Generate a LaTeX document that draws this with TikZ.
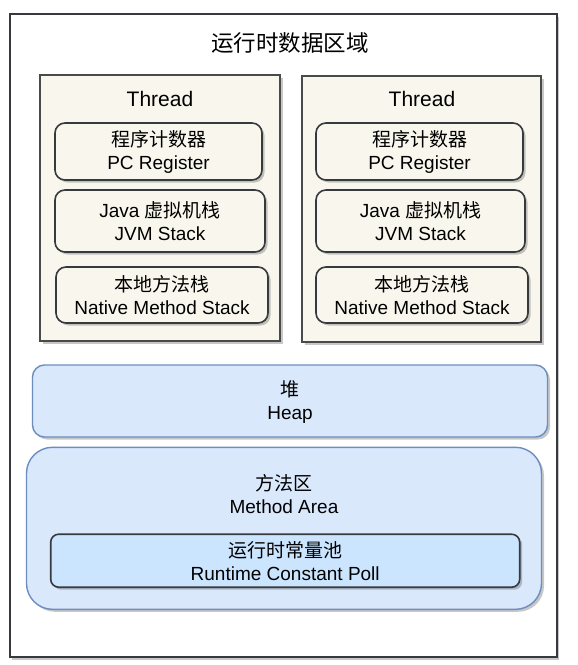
\documentclass[tikz,border=0pt]{standalone}
\usepackage{fontspec}
\setmainfont{Liberation Sans}
\newfontfamily\cjk{Noto Sans CJK SC}
\usetikzlibrary{shadows}
\definecolor{beige}{HTML}{F9F7ED}
\definecolor{bstroke}{HTML}{36393D}
\definecolor{tstroke}{HTML}{4A4A4A}
\definecolor{hblue}{HTML}{DAE8FC}
\definecolor{hstroke}{HTML}{6C8EBF}
\definecolor{pblue}{HTML}{CCE5FF}
\tikzset{
  shad/.style={drop shadow={shadow xshift=2.5pt, shadow yshift=-2.5pt, fill=black, opacity=0.22}},
  frame/.style={draw=bstroke, line width=2pt, fill=white, shad, inner sep=0pt},
  threadbox/.style={draw=tstroke, line width=1.5pt, fill=beige, shad, inner sep=0pt},
  stackbox/.style={draw=bstroke, line width=1.6pt, fill=beige, rounded corners=10pt, shad,
    align=center, inner sep=0pt, font=\fontsize{19}{23}\selectfont},
  bluebox/.style={draw=hstroke, line width=1.4pt, fill=hblue, shad, inner sep=0pt},
  poolbox/.style={draw=bstroke, line width=1.6pt, fill=pblue, rounded corners=8pt, shad,
    align=center, inner sep=0pt, font=\fontsize{19}{23}\selectfont},
  txt/.style={align=center, inner sep=0pt, font=\fontsize{19}{23}\selectfont},
  threadlbl/.style={inner sep=0pt, font=\fontsize{21}{25}\selectfont},
}
\begin{document}
\begin{tikzpicture}[x=1pt, y=-1pt]
\useasboundingbox (0,0) rectangle (578,665);
% outer frame
\node[frame, minimum width=547pt, minimum height=643pt] (outer) at (283,335.5) {};
\node[inner sep=0pt, font=\fontsize{22.5}{26}\selectfont\cjk] (title) at (290,43) {运行时数据区域};
% thread 1
\node[threadbox, minimum width=240pt, minimum height=266pt] (th1) at (160,208) {};
\node[threadlbl] (th1l) at (160,99) {Thread};
\node[stackbox, minimum width=207pt, minimum height=57pt] (pc1) at (158.5,151.5) {{\cjk 程序计数器}\\PC Register};
\node[stackbox, minimum width=210pt, minimum height=62pt] (jvm1) at (160,221) {Java {\cjk 虚拟机栈}\\JVM Stack};
\node[stackbox, minimum width=212pt, minimum height=56pt] (nat1) at (162,295) {{\cjk 本地方法栈}\\Native Method Stack};
% thread 2
\node[threadbox, minimum width=239pt, minimum height=266pt] (th2) at (421.5,209) {};
\node[threadlbl] (th2l) at (422,99) {Thread};
\node[stackbox, minimum width=207pt, minimum height=57pt] (pc2) at (419.5,151.5) {{\cjk 程序计数器}\\PC Register};
\node[stackbox, minimum width=209pt, minimum height=62pt] (jvm2) at (420.5,221) {Java {\cjk 虚拟机栈}\\JVM Stack};
\node[stackbox, minimum width=212pt, minimum height=56pt] (nat2) at (422,295) {{\cjk 本地方法栈}\\Native Method Stack};
% heap
\node[bluebox, rounded corners=12pt, minimum width=515pt, minimum height=72pt] (heap) at (290,401) {};
\node[txt] (heapl) at (290,402) {{\cjk 堆}\\Heap};
% method area
\node[bluebox, rounded corners=26pt, minimum width=515pt, minimum height=162pt] (ma) at (284,528.3) {};
\node[txt] (mal) at (284,494) {{\cjk 方法区}\\Method Area};
\node[poolbox, minimum width=469pt, minimum height=53pt] (pool) at (285.2,560.7) {{\cjk 运行时常量池}\\Runtime Constant Poll};
\end{tikzpicture}
\end{document}
